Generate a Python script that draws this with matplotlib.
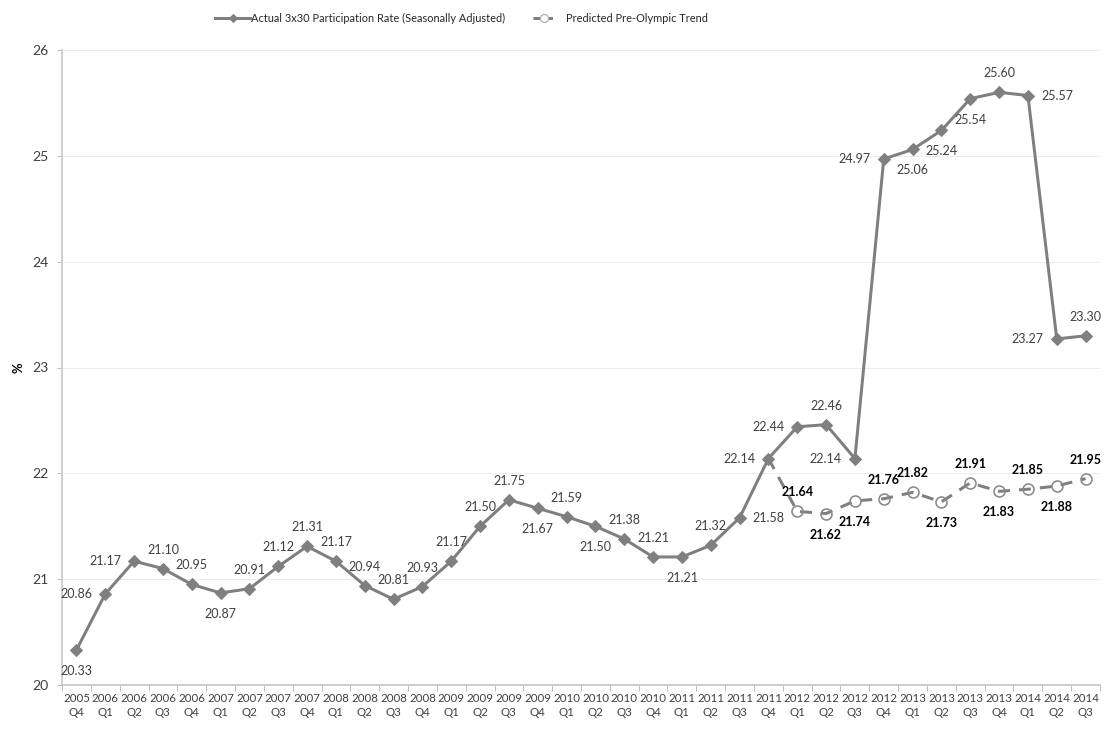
import matplotlib
matplotlib.use("Agg")
import matplotlib.pyplot as plt
from matplotlib.lines import Line2D

# ---- data ----
quarters = ["2005\nQ4", "2006\nQ1", "2006\nQ2", "2006\nQ3", "2006\nQ4", "2007\nQ1", "2007\nQ2",
            "2007\nQ3", "2007\nQ4", "2008\nQ1", "2008\nQ2", "2008\nQ3", "2008\nQ4", "2009\nQ1",
            "2009\nQ2", "2009\nQ3", "2009\nQ4", "2010\nQ1", "2010\nQ2", "2010\nQ3", "2010\nQ4",
            "2011\nQ1", "2011\nQ2", "2011\nQ3", "2011\nQ4", "2012\nQ1", "2012\nQ2", "2012\nQ3",
            "2012\nQ4", "2013\nQ1", "2013\nQ2", "2013\nQ3", "2013\nQ4", "2014\nQ1", "2014\nQ2",
            "2014\nQ3"]
actual = [20.33, 20.86, 21.17, 21.10, 20.95, 20.87, 20.91, 21.12, 21.31, 21.17, 20.94, 20.81,
          20.93, 21.17, 21.50, 21.75, 21.67, 21.59, 21.50, 21.38, 21.21, 21.21, 21.32, 21.58,
          22.14, 22.44, 22.46, 22.14, 24.97, 25.06, 25.24, 25.54, 25.60, 25.57, 23.27, 23.30]
# predicted trend starts from the 2011 Q4 actual value
pred_start = 24
predicted = [22.14, 21.64, 21.62, 21.74, 21.76, 21.82, 21.73, 21.91, 21.83, 21.85, 21.88, 21.95]
y_ticks = [20, 21, 22, 23, 24, 25, 26]
series_names = ["Actual 3x30 Participation Rate (Seasonally Adjusted)",
                "Predicted Pre-Olympic Trend"]

# label placement (a=above, b=below, l=left, r=right)
actual_pos = ["b", "l", "l", "a", "a", "b", "a", "a", "a", "a", "a", "a",
              "a", "a", "a", "a", "b", "a", "b", "a", "a", "b", "a", "r",
              "l", "l", "a", "l", "l", "b", "b", "b", "a", "r", "l", "a"]
pred_pos = [None, "a", "b", "b", "a", "a", "b", "a", "b", "a", "b", "a"]

GRAY = "#7f7f7f"
fig = plt.figure(figsize=(1116 / 72, 729 / 72), dpi=72)
plt.rcParams["font.family"] = ["Lato", "DejaVu Sans"]
ax = fig.add_axes([62 / 1116, 44 / 729, 1038 / 1116, 635 / 729])

x = list(range(len(actual)))
xp = list(range(pred_start, pred_start + len(predicted)))

ax.plot(x, actual, color=GRAY, lw=3, marker="D", ms=8.5, mfc=GRAY, mec=GRAY, zorder=3)
ax.plot(xp, predicted, color=GRAY, lw=3, dashes=(4, 3), marker="o", ms=11,
        mfc="none", mec="#8a8a8a", mew=1.6, markevery=list(range(1, len(predicted))), zorder=2)

off = {"a": (0, 19), "b": (0, -21), "l": (-29, 0), "r": (29, 0)}
for xi, v, p in zip(x, actual, actual_pos):
    ax.annotate(f"{v:.2f}", (xi, v), xytext=off[p], textcoords="offset points",
                ha="center", va="center", fontsize=12.5, color="#404040", zorder=5)
for xi, v, p in zip(xp, predicted, pred_pos):
    if p is None:
        continue
    ax.annotate(f"{v:.2f}", (xi, v), xytext=off[p], textcoords="offset points",
                ha="center", va="center", fontsize=12.5, color="black",
                fontweight="bold", zorder=5)

ax.set_xlim(-0.5, len(actual) - 0.5)
ax.set_ylim(20, 26)
ax.set_yticks(y_ticks)
ax.set_yticklabels([str(t) for t in y_ticks], fontsize=14, color="#404040")
ax.set_xticks(x)
ax.set_xticklabels(quarters, fontsize=11.5, color="#404040", linespacing=1.35)
ax.set_xticks([i - 0.5 for i in range(len(actual) + 1)], minor=True)
ax.tick_params(axis="x", which="major", length=0, pad=8)
ax.tick_params(axis="x", which="minor", length=6, color="#bfbfbf", width=1)
ax.tick_params(axis="y", length=5, color="#bfbfbf", width=1, pad=8)

ax.grid(axis="y", color="#ececec", lw=1)
ax.set_axisbelow(True)
for s in ["top", "right"]:
    ax.spines[s].set_visible(False)
ax.spines["left"].set_color("#d0d0d0")
ax.spines["left"].set_linewidth(2)
ax.spines["bottom"].set_color("#bfbfbf")
ax.spines["bottom"].set_linewidth(1.5)

ax.set_ylabel("%", fontsize=13, fontweight="bold", color="black", labelpad=8)

h1 = Line2D([], [], color=GRAY, lw=3, marker="D", ms=6, mfc=GRAY, mec=GRAY)
h2 = Line2D([], [], color=GRAY, lw=3, dashes=(2.6, 1.3), marker="o", ms=8, mfc="white",
            mec="#b0b0b0", mew=1.2)
leg1 = fig.legend([h1], [series_names[0]], loc="center left",
                  bbox_to_anchor=(215 / 1116, 1 - 18 / 729), frameon=False, fontsize=11,
                  handlelength=3.2, handletextpad=0.1, borderpad=0, borderaxespad=0,
                  labelcolor="#262626")
leg2 = fig.legend([h2], [series_names[1]], loc="center left",
                  bbox_to_anchor=(533 / 1116, 1 - 18 / 729), frameon=False, fontsize=11,
                  handlelength=2.0, handletextpad=1.0, borderpad=0, borderaxespad=0,
                  labelcolor="#262626")

fig.savefig("out.png", dpi=72)
